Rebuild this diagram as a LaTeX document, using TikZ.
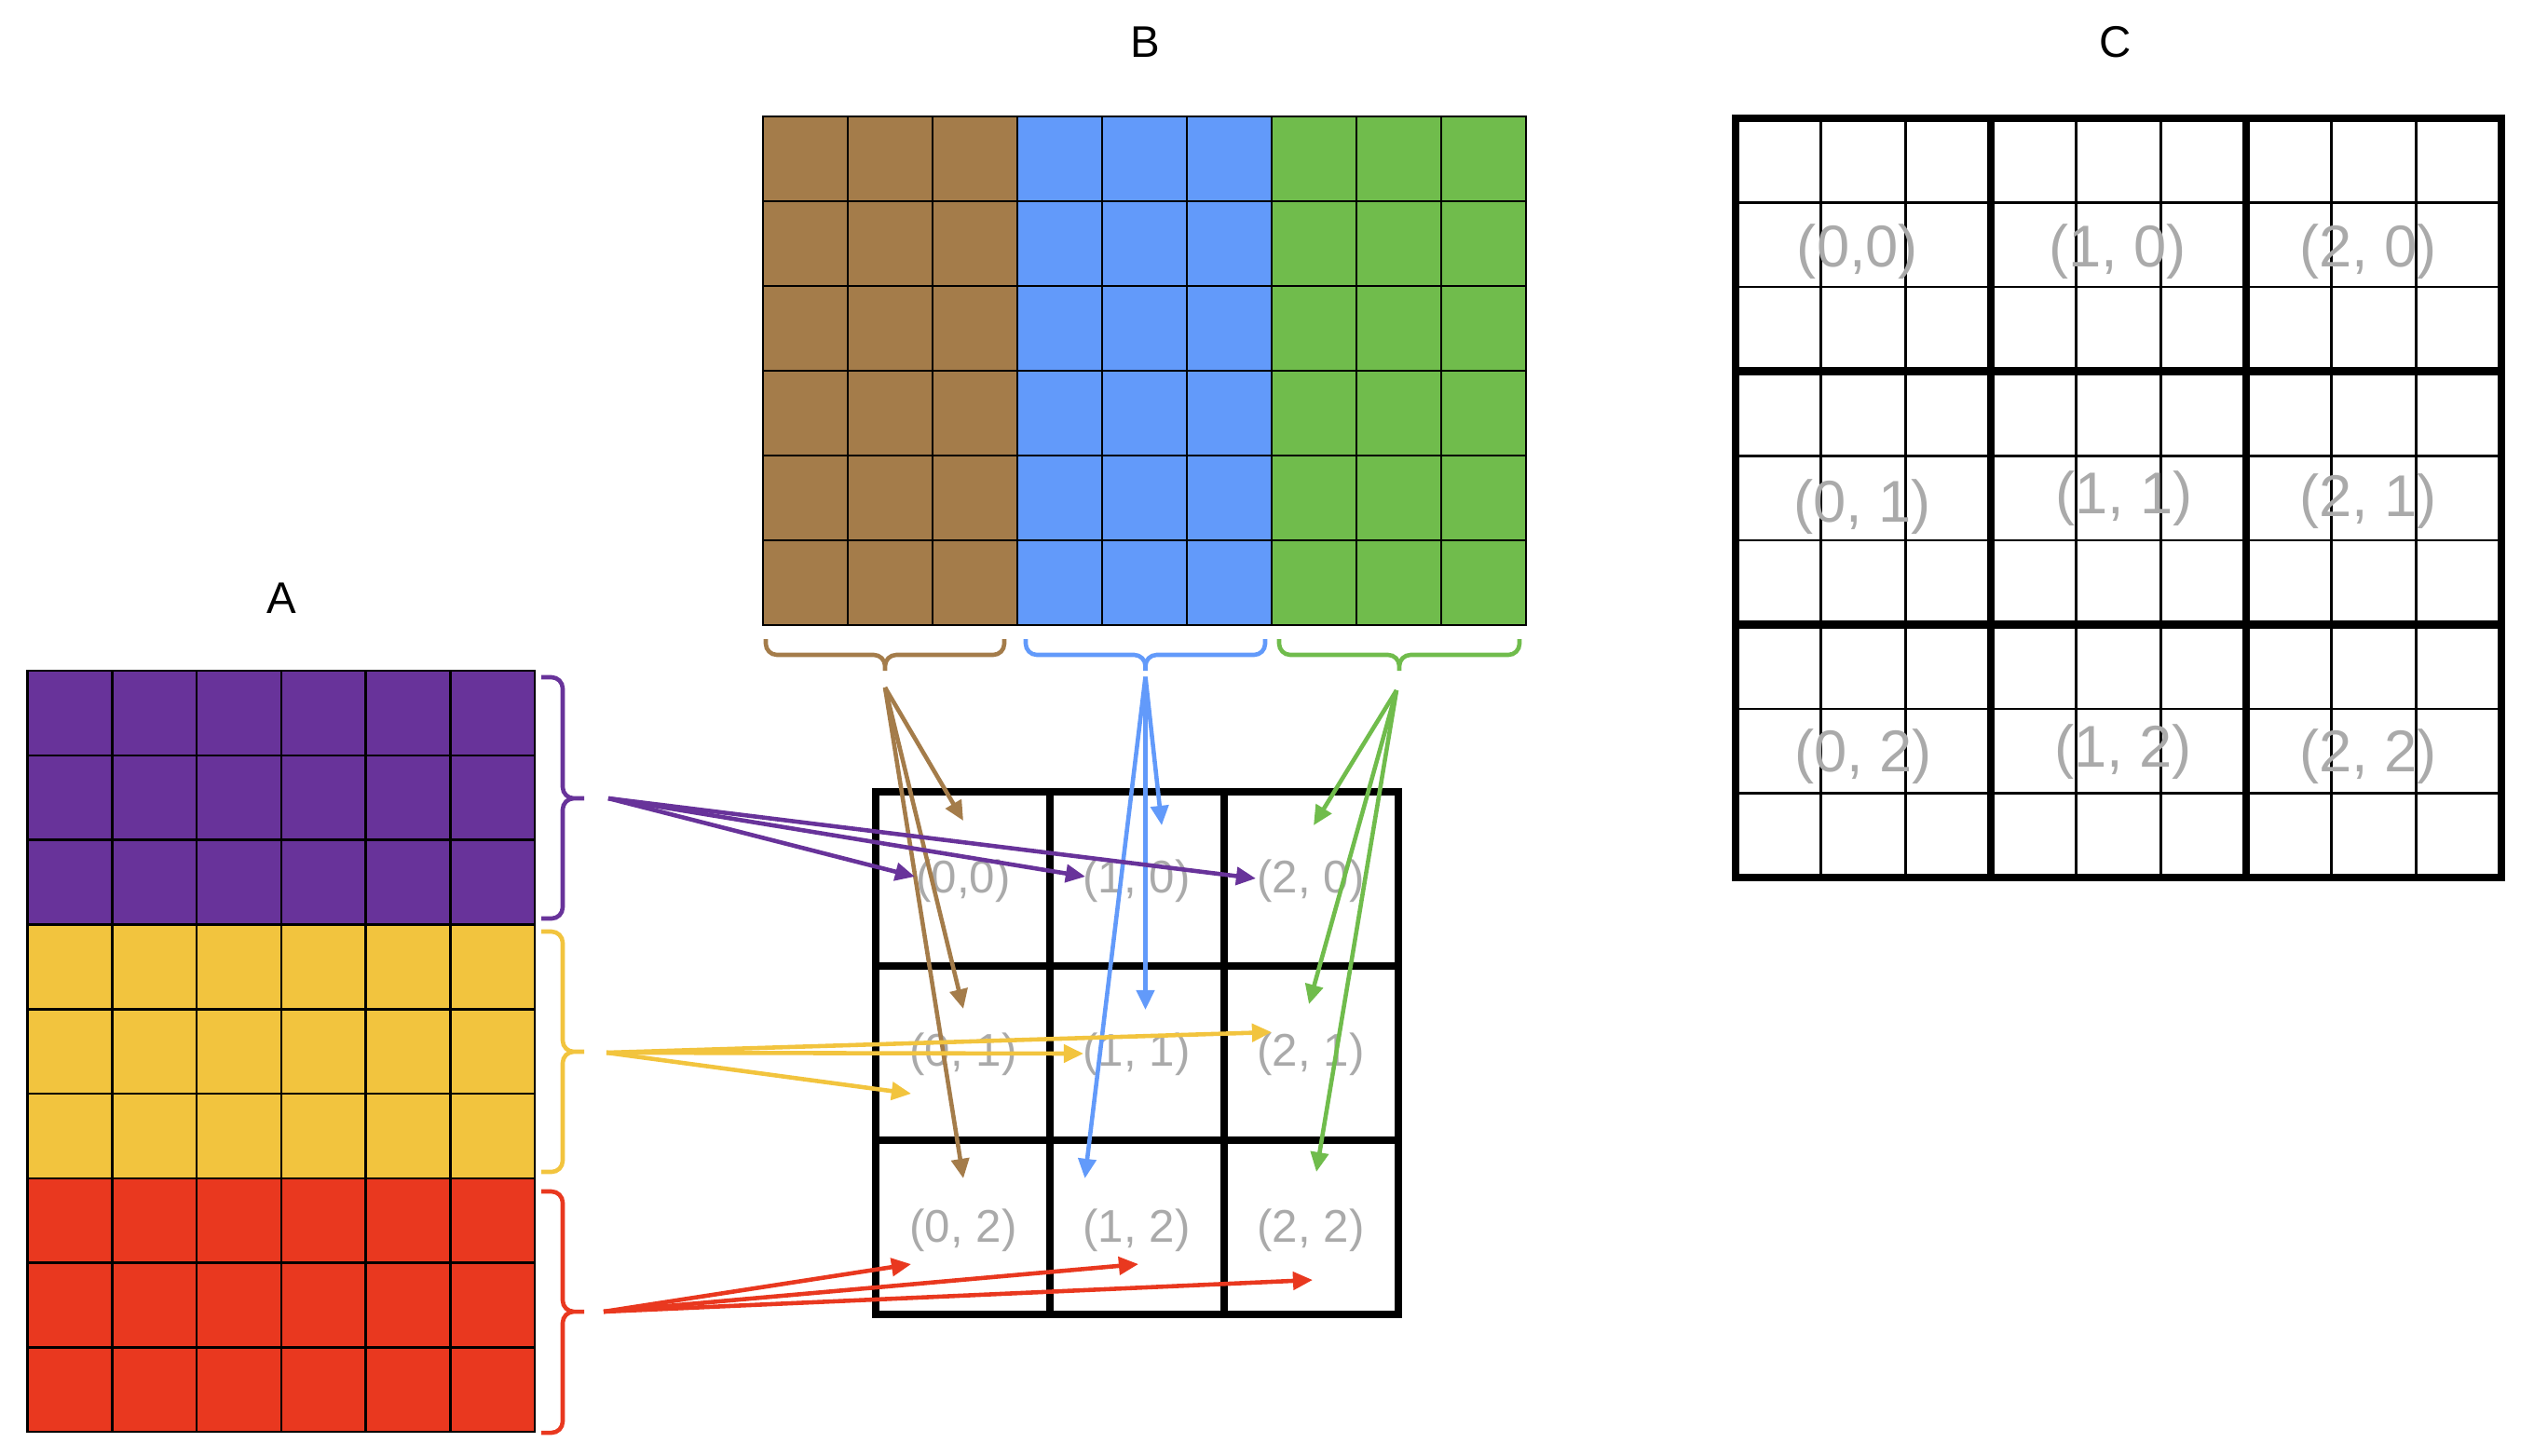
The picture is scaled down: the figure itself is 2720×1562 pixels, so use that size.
\documentclass[tikz,border=0pt]{standalone}
\usepackage{fontspec}
\setmainfont{Liberation Sans}
\usetikzlibrary{arrows.meta}

\definecolor{apurple}{RGB}{104,51,154}
\definecolor{ayellow}{RGB}{242,196,62}
\definecolor{ared}{RGB}{233,56,31}
\definecolor{bbrown}{RGB}{164,124,74}
\definecolor{bblue}{RGB}{98,154,250}
\definecolor{bgreen}{RGB}{112,188,76}
\definecolor{idxgray}{RGB}{170,170,170}

\tikzset{
  cellline/.style={black, line width=0.75pt},
  boldline/.style={black, line width=2.5pt},
  title/.style={font=\fontsize{13.5}{16}\selectfont},
  idx/.style={text=idxgray, font=\fontsize{14}{17}\selectfont},
  bigidx/.style={text=idxgray, font=\fontsize{18}{21}\selectfont},
  bracket/.style={rounded corners=1.2mm, line width=1.3pt},
  feed/.style={-{Triangle[length=6pt,width=5.4pt]}, line width=1.3pt},
}

\begin{document}
\begin{tikzpicture}[x=0.1mm, y=-0.1mm]
\useasboundingbox (0,0) rectangle (2720,1562);

\node[title] (labA) at (302,642) {A};
\node[title] (labB) at (1229,45) {B};
\node[title] (labC) at (2271,45) {C};

% matrix A
\fill[apurple] (29.5,720) rectangle (574,992.4);
\fill[ayellow] (29.5,992.4) rectangle (574,1264.8);
\fill[ared] (29.5,1264.8) rectangle (574,1537);
\foreach \i in {1,...,5} \draw[cellline] ({29.5+\i*90.8},720) -- ++(0,817);
\foreach \j in {1,...,8} \draw[cellline] (29.5,{720+\j*90.8}) -- ++(544.5,0);
\draw[cellline] (29.5,720) rectangle (574,1537);

\draw[bracket, apurple] (581,727) -- (604,727) -- (604,857) -- (627,857)
  (627,857) -- (604,857) -- (604,986) -- (581,986);
\draw[bracket, ayellow] (581,1000) -- (604,1000) -- (604,1129) -- (627,1129)
  (627,1129) -- (604,1129) -- (604,1258) -- (581,1258);
\draw[bracket, ared] (581,1279) -- (604,1279) -- (604,1408) -- (627,1408)
  (627,1408) -- (604,1408) -- (604,1538) -- (581,1538);

% matrix B
\fill[bbrown] (819,125) rectangle (1092,671);
\fill[bblue] (1092,125) rectangle (1365,671);
\fill[bgreen] (1365,125) rectangle (1638,671);
\foreach \i in {1,...,8} \draw[cellline] ({819+\i*91},125) -- ++(0,546);
\foreach \j in {1,...,5} \draw[cellline] (819,{125+\j*91}) -- ++(819,0);
\draw[cellline] (819,125) rectangle (1638,671);

\draw[bracket, bbrown] (822,686) -- (822,703) -- (950,703) -- (950,720)
  (950,720) -- (950,703) -- (1078,703) -- (1078,686);
\draw[bracket, bblue] (1101,686) -- (1101,703) -- (1229.5,703) -- (1229.5,720)
  (1229.5,720) -- (1229.5,703) -- (1358,703) -- (1358,686);
\draw[bracket, bgreen] (1373,686) -- (1373,703) -- (1502,703) -- (1502,720)
  (1502,720) -- (1502,703) -- (1631,703) -- (1631,686);

% result grid
\foreach \i in {1,2} \draw[boldline] ({940+\i*187},850) -- ++(0,561);
\foreach \j in {1,2} \draw[boldline] (940,{850+\j*187}) -- ++(561,0);
\draw[boldline] (940,850) rectangle (1501,1411);

\node[idx] (m00) at (1034,946) {(0,0)};
\node[idx] (m10) at (1220,946) {(1, 0)};
\node[idx] (m20) at (1407,946) {(2, 0)};
\node[idx] (m01) at (1034,1132) {(0, 1)};
\node[idx] (m11) at (1220,1132) {(1, 1)};
\node[idx] (m21) at (1407,1132) {(2, 1)};
\node[idx] (m02) at (1034,1321) {(0, 2)};
\node[idx] (m12) at (1220,1321) {(1, 2)};
\node[idx] (m22) at (1407,1321) {(2, 2)};

% blocked grid C
\foreach \i in {1,...,8} \draw[cellline] ({1863+\i*91.33},127) -- ++(0,815);
\foreach \j in {1,...,8} \draw[cellline] (1863,{127+\j*90.56}) -- ++(822,0);
\foreach \i in {3,6} \draw[boldline] ({1863+\i*91.33},127) -- ++(0,815);
\foreach \j in {3,6} \draw[boldline] (1863,{127+\j*90.56}) -- ++(822,0);
\draw[boldline] (1863,127) rectangle (2685,942);

\node[bigidx] (c00) at (1994,270) {(0,0)};
\node[bigidx] (c10) at (2273,270) {(1, 0)};
\node[bigidx] (c20) at (2542,270) {(2, 0)};
\node[bigidx] (c01) at (1999,544) {(0, 1)};
\node[bigidx] (c11) at (2280,535) {(1, 1)};
\node[bigidx] (c21) at (2542,538) {(2, 1)};
\node[bigidx] (c02) at (2000,812) {(0, 2)};
\node[bigidx] (c12) at (2279,807) {(1, 2)};
\node[bigidx] (c22) at (2542,812) {(2, 2)};

% arrow ends
\coordinate (brn) at (950,738);
\coordinate (brn0) at (1034,881);
\coordinate (brn1) at (1034,1083);
\coordinate (brn2) at (1034,1265);
\coordinate (blu) at (1229.5,726.5);
\coordinate (blu0) at (1247,886);
\coordinate (blu1) at (1229.5,1084);
\coordinate (blu2) at (1164.5,1265);
\coordinate (grn) at (1499,741);
\coordinate (grn0) at (1410,886);
\coordinate (grn1) at (1405,1078);
\coordinate (grn2) at (1413,1258);
\coordinate (pur) at (653,857);
\coordinate (pur0) at (982,941);
\coordinate (pur1) at (1165,941);
\coordinate (pur2) at (1348,943);
\coordinate (yel) at (651,1130);
\coordinate (yel0) at (978,1174);
\coordinate (yel1) at (1163,1131);
\coordinate (yel2) at (1365,1108);
\coordinate (red) at (648,1408);
\coordinate (red0) at (978,1357);
\coordinate (red1) at (1222,1357);
\coordinate (red2) at (1409,1374);

\draw[feed, bbrown] (brn) -- (brn0);
\draw[feed, bbrown] (brn) -- (brn1);
\draw[feed, bbrown] (brn) -- (brn2);
\draw[feed, bblue] (blu) -- (blu0);
\draw[feed, bblue] (blu) -- (blu1);
\draw[feed, bblue] (blu) -- (blu2);
\draw[feed, bgreen] (grn) -- (grn0);
\draw[feed, bgreen] (grn) -- (grn1);
\draw[feed, bgreen] (grn) -- (grn2);
\draw[feed, apurple] (pur) -- (pur0);
\draw[feed, apurple] (pur) -- (pur1);
\draw[feed, apurple] (pur) -- (pur2);
\draw[feed, ayellow] (yel) -- (yel0);
\draw[feed, ayellow] (yel) -- (yel1);
\draw[feed, ayellow] (yel) -- (yel2);
\draw[feed, ared] (red) -- (red0);
\draw[feed, ared] (red) -- (red1);
\draw[feed, ared] (red) -- (red2);
\end{tikzpicture}
\end{document}
